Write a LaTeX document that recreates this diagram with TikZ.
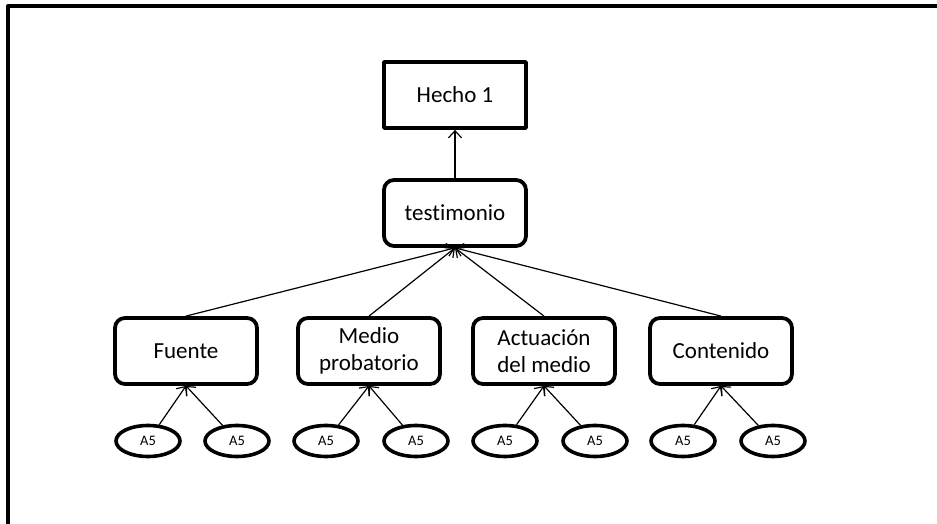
\documentclass[tikz,border=0pt]{standalone}
\usepackage{fontspec}
\setmainfont[Ligatures=NoCommon]{Carlito}
\usetikzlibrary{shapes.geometric,arrows.meta}
\begin{document}
\begin{tikzpicture}[x=1pt,y=1pt,>={Straight Barb[length=7pt,width=13pt]}, line join=round]
	\tikzset{
		hecho/.style={draw, line width=3.8pt, minimum width=142pt, minimum height=66pt, font=\fontsize{23}{27}\selectfont},
		nivel/.style={draw, line width=3.8pt, rounded corners=10pt, minimum width=142pt, minimum height=66pt, align=center, font=\fontsize{23}{27}\selectfont},
		hoja/.style={draw, ellipse, line width=3.6pt, minimum width=64pt, minimum height=31pt, inner sep=0pt, font=\fontsize{14.5}{16}\selectfont},
		flecha/.style={->, line width=1.2pt}
	}
	\useasboundingbox (0,0) rectangle (937,524);
	% marco
	\draw[line width=4pt] (8,0)--(8,518)--(937,518);
	% nodos
	\node[hecho] (h1) at (455,429) {Hecho 1};
	\node[nivel] (test) at (455,311) {testimonio};
	\node[nivel] (fue) at (186,173) {Fuente};
	\node[nivel] (med) at (369,173) {Medio\\probatorio};
	\node[nivel] (act) at (544,173) {Actuación\\del medio};
	\node[nivel] (con) at (721,173) {Contenido};
	\foreach \n/\x in {1/148,2/237,3/326,4/416,5/505,6/595,7/683,8/773}
		\node[hoja] (a\n) at (\x,83) {A5};
	% conexiones
	\draw[flecha] (test) -- (h1);
	\foreach \n in {fue,med,act,con}
		\draw[flecha] (\n.north) -- (test.south);
	\draw[flecha] (a1) -- (fue.south);
	\draw[flecha] (a2) -- (fue.south);
	\draw[flecha] (a3) -- (med.south);
	\draw[flecha] (a4) -- (med.south);
	\draw[flecha] (a5) -- (act.south);
	\draw[flecha] (a6) -- (act.south);
	\draw[flecha] (a7) -- (con.south);
	\draw[flecha] (a8) -- (con.south);
\end{tikzpicture}
\end{document}
